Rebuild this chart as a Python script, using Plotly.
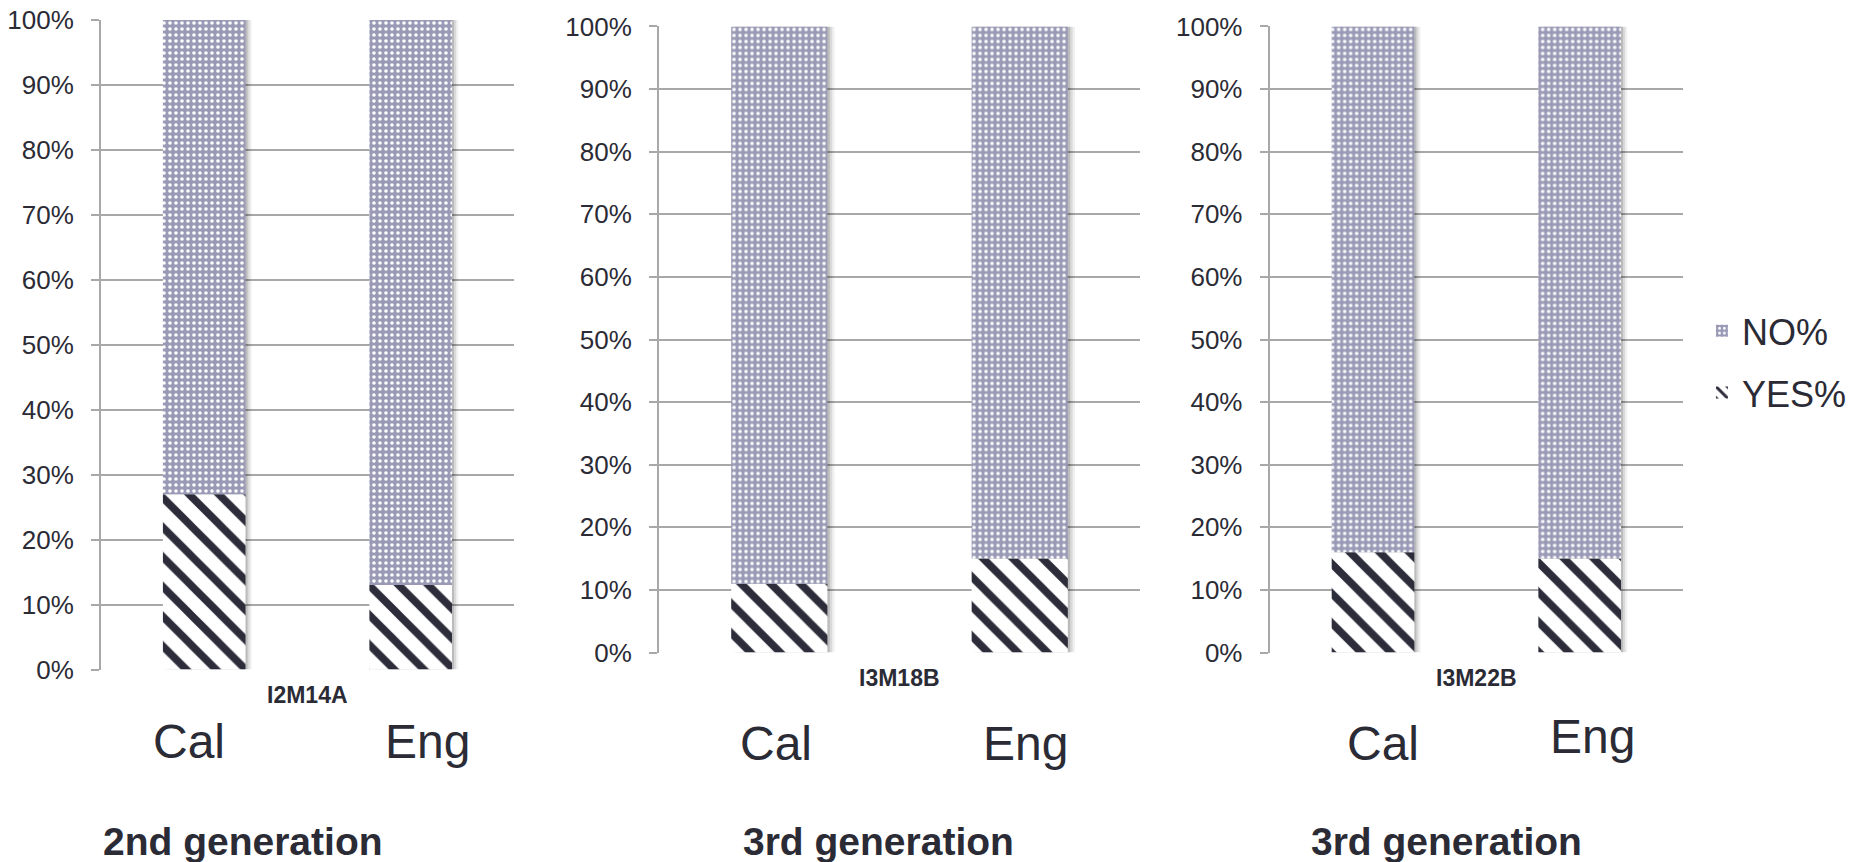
import plotly.graph_objects as go

# ---- data -------------------------------------------------------------
categories = ["Cal", "Eng"]
panel_codes = ["I2M14A", "I3M18B", "I3M22B"]
generation_labels = ["2nd generation", "3rd generation", "3rd generation"]

yes_i2m14a = [27, 13]
no_i2m14a = [73, 87]
yes_i3m18b = [11, 15]
no_i3m18b = [89, 85]
yes_i3m22b = [16, 15]
no_i3m22b = [84, 85]

y_tick_values = [0, 10, 20, 30, 40, 50, 60, 70, 80, 90, 100]
y_tick_labels = ["0%", "10%", "20%", "30%", "40%", "50%", "60%", "70%", "80%", "90%", "100%"]

yes_series = [yes_i2m14a, yes_i3m18b, yes_i3m22b]
no_series = [no_i2m14a, no_i3m18b, no_i3m22b]

# ---- styling ----------------------------------------------------------
FONT = "Liberation Sans, Arial, Helvetica, sans-serif"
TEXT = "#2b2b36"
GRID = "#a8a8a8"
NO_BG = "#9a9ab7"
STRIPE = "#2c2c3a"

x_domains = [[0.0544, 0.2769], [0.3551, 0.6142], [0.6841, 0.9068]]
y_domains = [[0.2233, 0.9768], [0.2430, 0.9693], [0.2430, 0.9693]]
title_x = [0.0545, 0.3993, 0.7055]
# pixel nudges for the category captions under each column
cat_xshift = [[-15, 17], [-3, 6], [10, 13]]
cat_yshift = [[-72, -72], [-91, -91], [-91, -84]]

BAR_W = 0.4
BAR_OFF = -0.2

fig = go.Figure()

for i, code in enumerate(panel_codes):
    xa = "x" if i == 0 else f"x{i + 1}"
    ya = "y" if i == 0 else f"y{i + 1}"
    yes = yes_series[i]
    no = no_series[i]
    totals = [a + b for a, b in zip(yes, no)]

    # soft drop shadow to the right of each stacked column
    for shift, alpha in [(0.030, 0.06), (0.020, 0.09), (0.010, 0.14)]:
        fig.add_trace(go.Bar(
            x=categories, y=totals, base=0,
            width=BAR_W, offset=BAR_OFF + shift,
            marker=dict(color=f"rgba(0,0,0,{alpha})", line=dict(width=0)),
            showlegend=False, hoverinfo="skip", xaxis=xa, yaxis=ya,
        ))

    fig.add_trace(go.Bar(
        name="YES%", x=categories, y=yes, base=0,
        width=BAR_W, offset=BAR_OFF,
        marker=dict(
            color="white", line=dict(width=0),
            pattern=dict(shape="\\", fgcolor=STRIPE, bgcolor="white",
                         size=21, solidity=0.36, fillmode="replace"),
        ),
        legendgroup="yes", legendrank=2, showlegend=(i == 0),
        xaxis=xa, yaxis=ya,
    ))
    fig.add_trace(go.Bar(
        name="NO%", x=categories, y=no, base=yes,
        width=BAR_W, offset=BAR_OFF,
        marker=dict(
            color=NO_BG, line=dict(width=0),
            pattern=dict(shape=".", fgcolor="white", bgcolor=NO_BG,
                         size=6, solidity=0.28, fillmode="replace"),
        ),
        legendgroup="no", legendrank=1, showlegend=(i == 0),
        xaxis=xa, yaxis=ya,
    ))

    xkey = "xaxis" if i == 0 else f"xaxis{i + 1}"
    ykey = "yaxis" if i == 0 else f"yaxis{i + 1}"
    fig.update_layout({
        xkey: dict(
            domain=x_domains[i], anchor=ya, type="category",
            categoryorder="array", categoryarray=categories,
            range=[-0.5, 1.5],
            showgrid=False, showline=False, zeroline=False, ticks="",
            showticklabels=False, automargin=False,
            fixedrange=True,
        ),
        ykey: dict(
            domain=y_domains[i], anchor=xa, range=[0, 100],
            tickvals=y_tick_values, ticktext=y_tick_labels,
            showgrid=True, gridcolor=GRID, gridwidth=2,
            showline=True, linecolor=GRID, linewidth=2,
            ticks="outside", ticklen=8, tickcolor=GRID, tickwidth=2,
            zeroline=False, automargin=False,
            tickfont=dict(family=FONT, size=26, color=TEXT),
            ticklabelstandoff=12,
            fixedrange=True,
        ),
    })

    # category captions under the columns
    for j, cat in enumerate(categories):
        fig.add_annotation(
            text=cat, showarrow=False,
            xref=xa, x=cat, xanchor="center", xshift=cat_xshift[i][j],
            yref=f"{ya} domain", y=0, yanchor="middle", yshift=cat_yshift[i][j],
            font=dict(family=FONT, size=48, color=TEXT),
        )

    # series code under each axis
    fig.add_annotation(
        text=f"<b>{code}</b>", showarrow=False,
        xref=f"{xa} domain", x=0.5, xanchor="center",
        yref=f"{ya} domain", y=0, yanchor="middle", yshift=-25,
        font=dict(family=FONT, size=23, color=TEXT),
    )
    # generation caption
    fig.add_annotation(
        text=f"<b>{generation_labels[i]}</b>", showarrow=False,
        xref="paper", x=title_x[i], xanchor="left",
        yref="paper", y=0.024, yanchor="middle",
        font=dict(family=FONT, size=39, color=TEXT),
    )

fig.update_layout(
    width=1856, height=862,
    margin=dict(l=0, r=0, t=0, b=0, autoexpand=False),
    paper_bgcolor="white", plot_bgcolor="white",
    barmode="overlay",
    showlegend=True,
    legend=dict(
        x=0.917, xanchor="left", y=0.651, yanchor="top",
        traceorder="grouped", tracegroupgap=12,
        font=dict(family=FONT, size=36, color=TEXT),
        bgcolor="rgba(0,0,0,0)", itemclick=False, itemdoubleclick=False,
    ),
    hovermode=False,
)

fig.write_html("out.html")
